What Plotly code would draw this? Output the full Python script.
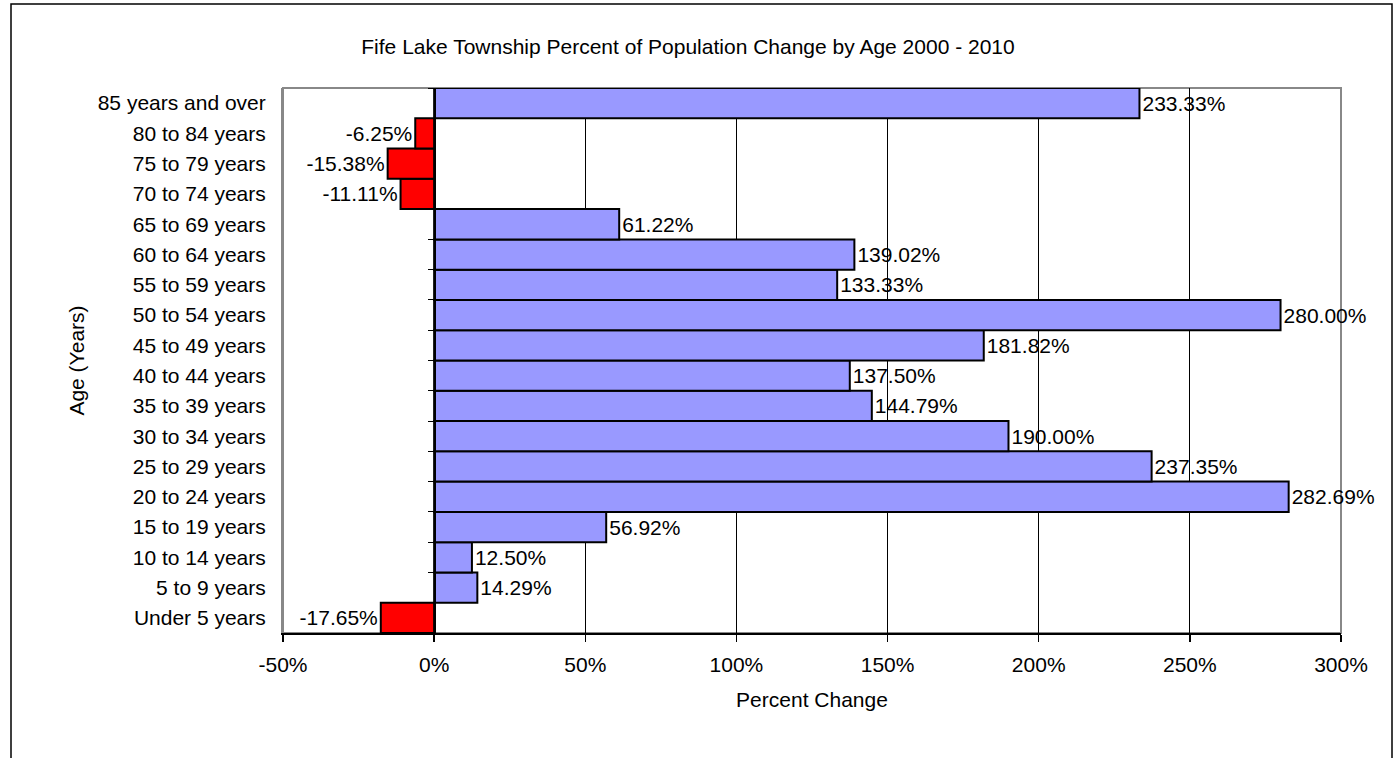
import plotly.graph_objects as go

# Data (bottom to top)
age_groups = [
    "Under 5 years", "5 to 9 years", "10 to 14 years", "15 to 19 years",
    "20 to 24 years", "25 to 29 years", "30 to 34 years", "35 to 39 years",
    "40 to 44 years", "45 to 49 years", "50 to 54 years", "55 to 59 years",
    "60 to 64 years", "65 to 69 years", "70 to 74 years", "75 to 79 years",
    "80 to 84 years", "85 years and over",
]
pct_change = [
    -17.65, 14.29, 12.50, 56.92,
    282.69, 237.35, 190.00, 144.79,
    137.50, 181.82, 280.00, 133.33,
    139.02, 61.22, -11.11, -15.38,
    -6.25, 233.33,
]
x_ticks = [-50, 0, 50, 100, 150, 200, 250, 300]
x_tick_text = [f"{v}%" for v in x_ticks]

POS_COLOR = "#9999FF"
NEG_COLOR = "#FF0000"
FONT = "Liberation Sans, Arial, sans-serif"
FS = 21

colors = [POS_COLOR if v >= 0 else NEG_COLOR for v in pct_change]

fig = go.Figure()
fig.add_trace(go.Bar(
    x=pct_change, y=age_groups, orientation="h",
    marker=dict(color=colors, line=dict(color="black", width=2)),
    texttemplate="%{x:.2f}%", textposition="outside",
    textfont=dict(family=FONT, size=FS, color="black"),
    constraintext="none", cliponaxis=False,
    hoverinfo="skip", showlegend=False,
))
# invisible helper trace for the category axis drawn at 0%
fig.add_trace(go.Scatter(
    x=[0] * len(age_groups), y=age_groups, yaxis="y2", mode="markers",
    marker=dict(opacity=0), hoverinfo="skip", showlegend=False,
))

W, H = 1395, 758
L, R, T, B = 283, 1341, 88, 633
pw, ph = R - L, B - T

def px_x(p):
    return (p - L) / pw

def px_y(p):
    return (B - p) / ph

fig.update_layout(
    width=W, height=H,
    margin=dict(l=L, r=W - R, t=T, b=H - B, pad=0),
    paper_bgcolor="white", plot_bgcolor="white",
    bargap=0,
    font=dict(family=FONT, size=FS, color="black"),
    title=dict(
        text="Fife Lake Township Percent of Population Change by Age 2000 - 2010",
        x=688 / W, xanchor="center", y=1 - 47 / H, yanchor="middle",
        font=dict(family=FONT, size=FS, color="black"),
    ),
    xaxis=dict(
        range=[-50, 300], tickvals=x_ticks, ticktext=x_tick_text,
        showgrid=True, gridcolor="black", gridwidth=1,
        zeroline=False,
        showline=True, linecolor="black", linewidth=1.5,
        ticks="outside", ticklen=7, tickcolor="black", tickwidth=1.5,
        ticklabelstandoff=5,
        title=dict(text="Percent Change", standoff=17,
                   font=dict(family=FONT, size=FS)),
        fixedrange=True,
    ),
    yaxis=dict(
        type="category", categoryorder="array", categoryarray=age_groups,
        range=[-0.5, len(age_groups) - 0.5],
        showgrid=False, zeroline=False,
        showline=True, linecolor="#888888", linewidth=2,
        ticks="", ticklabelstandoff=11,
        title=dict(text="Age (Years)", standoff=7,
                   font=dict(family=FONT, size=FS)),
        fixedrange=True,
    ),
    yaxis2=dict(
        type="category", categoryorder="array", categoryarray=age_groups,
        range=[-0.5, len(age_groups) - 0.5],
        overlaying="y", anchor="free", position=1 / 7, side="left",
        showgrid=False, zeroline=False,
        showline=True, linecolor="black", linewidth=1.5,
        ticks="outside", ticklen=6, tickcolor="black", tickwidth=1,
        tickson="boundaries", showticklabels=False,
        fixedrange=True,
    ),
    shapes=[
        # plot-area border (gray)
        dict(type="rect", xref="paper", yref="paper", x0=0, x1=1, y0=0, y1=1,
             line=dict(color="#888888", width=2), layer="below"),
        # outer chart frame
        dict(type="rect", xref="paper", yref="paper",
             x0=px_x(11), x1=px_x(1392), y0=px_y(4), y1=px_y(780),
             line=dict(color="black", width=1.5), layer="below"),
    ],
)

fig.write_html(
    "out.html",
    config={"displayModeBar": False, "staticPlot": True},
    post_script="document.body.style.margin='0';document.body.style.overflow='hidden';",
)
